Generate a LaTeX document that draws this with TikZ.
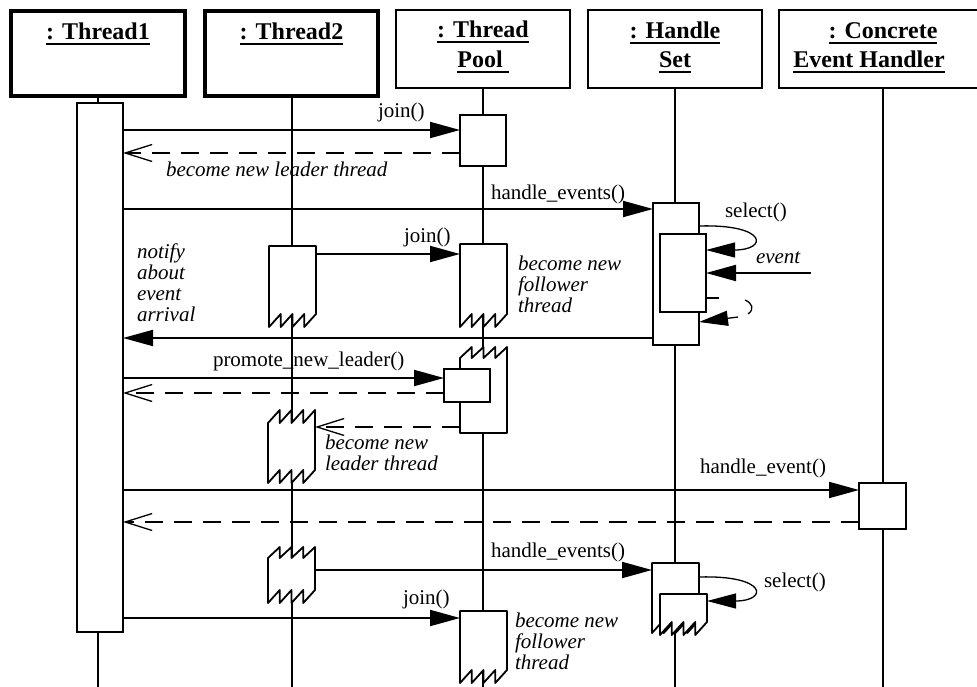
\documentclass[tikz,border=0pt]{standalone}
\usepackage{fontspec}
\setmainfont{Liberation Serif}
\usetikzlibrary{arrows.meta}
\newcommand\myul[1]{\setbox0\hbox{#1}\rlap{\rule[-5.5pt]{\wd0}{2pt}}\box0}
% zigzag-bottom activation: name x1 x2 ytop ypeak yvalley
\newcommand\zzbot[6]{%
  \node[zone, minimum width={#3-#2}, minimum height={#5-#4}] (#1) at (#2,#4) {};
  \filldraw[zz] (#2,#4) -- (#3,#4) -- (#3,#5)
    -- ({#2+3*(#3-#2)/4},#6) -- ({#2+3*(#3-#2)/4},#5)
    -- ({#2+(#3-#2)/2},#6) -- ({#2+(#3-#2)/2},#5)
    -- ({#2+(#3-#2)/4},#6) -- ({#2+(#3-#2)/4},#5)
    -- (#2,#6) -- cycle;}
% zigzag-top activation: name x1 x2 ypeak yvalley ybot
\newcommand\zztop[6]{%
  \node[zone, minimum width={#3-#2}, minimum height={#6-#4}] (#1) at (#2,#4) {};
  \filldraw[zz] (#2,#5) -- ({#2+(#3-#2)/4},#4) -- ({#2+(#3-#2)/4},#5)
    -- ({#2+(#3-#2)/2},#4) -- ({#2+(#3-#2)/2},#5)
    -- ({#2+3*(#3-#2)/4},#4) -- ({#2+3*(#3-#2)/4},#5)
    -- (#3,#4) -- (#3,#6) -- (#2,#6) -- cycle;}
% zigzag both: name x1 x2 tpeak tvalley bpeak bvalley
\newcommand\zzboth[7]{%
  \node[zone, minimum width={#3-#2}, minimum height={#6-#5}] (#1) at (#2,#5) {};
  \filldraw[zz] (#3,#4) -- (#3,#6)
    -- ({#2+3*(#3-#2)/4},#7) -- ({#2+3*(#3-#2)/4},#6)
    -- ({#2+(#3-#2)/2},#7) -- ({#2+(#3-#2)/2},#6)
    -- ({#2+(#3-#2)/4},#7) -- ({#2+(#3-#2)/4},#6)
    -- (#2,#7) -- (#2,#5)
    -- ({#2+(#3-#2)/4},#4) -- ({#2+(#3-#2)/4},#5)
    -- ({#2+(#3-#2)/2},#4) -- ({#2+(#3-#2)/2},#5)
    -- ({#2+3*(#3-#2)/4},#4) -- ({#2+3*(#3-#2)/4},#5)
    -- cycle;}
\begin{document}
\begin{tikzpicture}[x=1pt,y=-1pt,line width=2pt,
  hdr/.style={draw,fill=white,inner sep=0,outer sep=0,anchor=north west,line width=2pt},
  hdrthick/.style={hdr,line width=4.5pt},
  htext/.style={anchor=base,inner sep=0,font=\fontsize{24}{28}\selectfont\bfseries},
  act/.style={draw,fill=white,inner sep=0,outer sep=0,anchor=north west,line width=2pt},
  zone/.style={inner sep=0,outer sep=0,anchor=north west},
  zz/.style={fill=white,line width=1.8pt,line join=round},
  msg/.style={-{Triangle[length=30pt,width=16pt]}},
  ret/.style={dash pattern=on 18pt off 11pt,-{Straight Barb[length=27pt,width=17pt,line width'=1.3pt]}},
  selfloop/.style={line width=1.3pt,-{Triangle[length=29pt,width=15pt]}},
  thinline/.style={line width=1.3pt},
  lbl/.style={font=\fontsize{21}{21}\selectfont,inner sep=0,anchor=base west},
  ilbl/.style={font=\fontsize{21}{21}\selectfont\itshape,inner sep=0,anchor=north west,align=left},
]
\useasboundingbox (0,0) rectangle (977,687);
\clip (0,0) rectangle (977,687);

% headers
\node[hdrthick,minimum width=174pt,minimum height=85pt] (t1) at (11,11) {};
\node[hdrthick,minimum width=173pt,minimum height=85pt] (t2) at (205,11) {};
\node[hdr,minimum width=174pt,minimum height=77.5pt] (tp) at (396,10.5) {};
\node[hdr,minimum width=174pt,minimum height=77.5pt] (hs) at (588,10.5) {};
\node[hdr,minimum width=208pt,minimum height=77.5pt] (ceh) at (779,10.5) {};
\node[htext] at (t1.north |- 0,40) {\myul{: Thread1}};
\node[htext] at (t2.north |- 0,40) {\myul{: Thread2}};
\node[htext] at (tp.north |- 0,38) {\myul{: Thread}};
\node[htext] at (tp.north |- 0,68) {\myul{Pool\ }};
\node[htext] at (hs.north |- 0,39) {\myul{: Handle}};
\node[htext] at (hs.north |- 0,68) {\myul{Set}};
\node[htext] at (883,39) {\myul{: Concrete}};
\node[htext] at (869,68) {\myul{Event Handler}};

% lifelines
\draw (t1.south) -- (t1.south |- 0,690);
\draw (t2.south) -- (t2.south |- 0,690);
\draw (tp.south) -- (tp.south |- 0,690);
\draw (hs.south) -- (hs.south |- 0,690);
\draw (ceh.south -| 883,0) -- (883,690);

% activations
\node[act,minimum width=46pt,minimum height=529pt] (a1) at (77,103) {};
\node[act,minimum width=46pt,minimum height=51pt] (tp1) at (460,115) {};
\node[act,minimum width=46pt,minimum height=142pt] (hs1) at (653,203) {};
\node[act,minimum width=46pt,minimum height=78pt] (hs1i) at (660,234) {};
\zzbot{t2a}{269}{316}{246}{314}{327}
\zzbot{tp2}{460}{507}{244}{314}{327}
\zztop{tp3}{460}{507}{347}{358}{433}
\node[act,minimum width=46pt,minimum height=33pt] (tp3i) at (444,369) {};
\zzboth{t2b}{268}{315}{410}{423}{470}{483}
\node[act,minimum width=47pt,minimum height=46pt] (ceh1) at (859,483) {};
\zzboth{t2c}{268}{315}{547}{558}{590}{603}
\zzbot{hs2}{652}{699}{563}{620}{633}
\zzbot{hs2i}{660}{707}{594}{622}{635}
\zzbot{tp4}{460}{507}{611}{670}{683}

% messages
\draw[msg] (a1.east |- 0,130) -- (tp1.west |- 0,130);
\draw[ret] (tp1.west |- 0,153) -- (a1.east |- 0,153);
\draw[msg] (a1.east |- 0,209) -- (hs1.west |- 0,209);
\draw[selfloop] (hs1.east |- 0,226) .. controls (768,224) and (768,250) .. (hs1i.east |- 0,250);
\coordinate (evsrc) at (811,273);
\draw[msg] (evsrc) -- (hs1i.east |- 0,273);
\draw[thinline] (hs1i.east |- 0,298) -- ++(13,0);
\draw[thinline] (745,300) .. controls (752,303) and (755,309) .. (748,314);
\coordinate (rtail) at (738,317);
\draw[selfloop] (rtail) -- (hs1.east |- 0,322);
\draw[msg] (t2a.east |- 0,254) -- (tp2.west |- 0,254);
\draw[msg] (hs1.west |- 0,338) -- (a1.east |- 0,338);
\draw[msg] (a1.east |- 0,378) -- (tp3i.west |- 0,378);
\draw[ret] (tp3i.west |- 0,393) -- (a1.east |- 0,393);
\draw[ret] (tp3.west |- 0,427) -- (t2b.east |- 0,427);
\draw[msg] (a1.east |- 0,490) -- (ceh1.west |- 0,490);
\draw[ret] (ceh1.west |- 0,522) -- (a1.east |- 0,522);
\draw[msg] (t2c.east |- 0,570) -- (hs2.west |- 0,570);
\draw[selfloop] (hs2.east |- 0,577) .. controls (768,575) and (768,601) .. (hs2i.east |- 0,601);
\draw[msg] (a1.east |- 0,618) -- (tp4.west |- 0,618);

% labels
\node[lbl] at (377,118) {join()};
\node[ilbl] at (165,161) {become new leader thread};
\node[lbl] at (490,200) {handle\_events()};
\node[lbl] at (724,218) {select()};
\node[ilbl] at (755,251) {event};
\node[lbl] at (403,242) {join()};
\node[ilbl] at (517,255) {become new\\follower\\thread};
\node[ilbl] at (136,243) {notify\\about\\event\\arrival};
\node[lbl] at (212,366) {promote\_new\_leader()};
\node[ilbl] at (324,434) {become new\\leader thread};
\node[lbl,anchor=base east] at (827,473) {handle\_event()};
\node[lbl] at (490,557) {handle\_events()};
\node[lbl] at (763,587) {select()};
\node[lbl] at (402,604) {join()};
\node[ilbl] at (514,612) {become new\\follower\\thread};
\end{tikzpicture}
\end{document}
